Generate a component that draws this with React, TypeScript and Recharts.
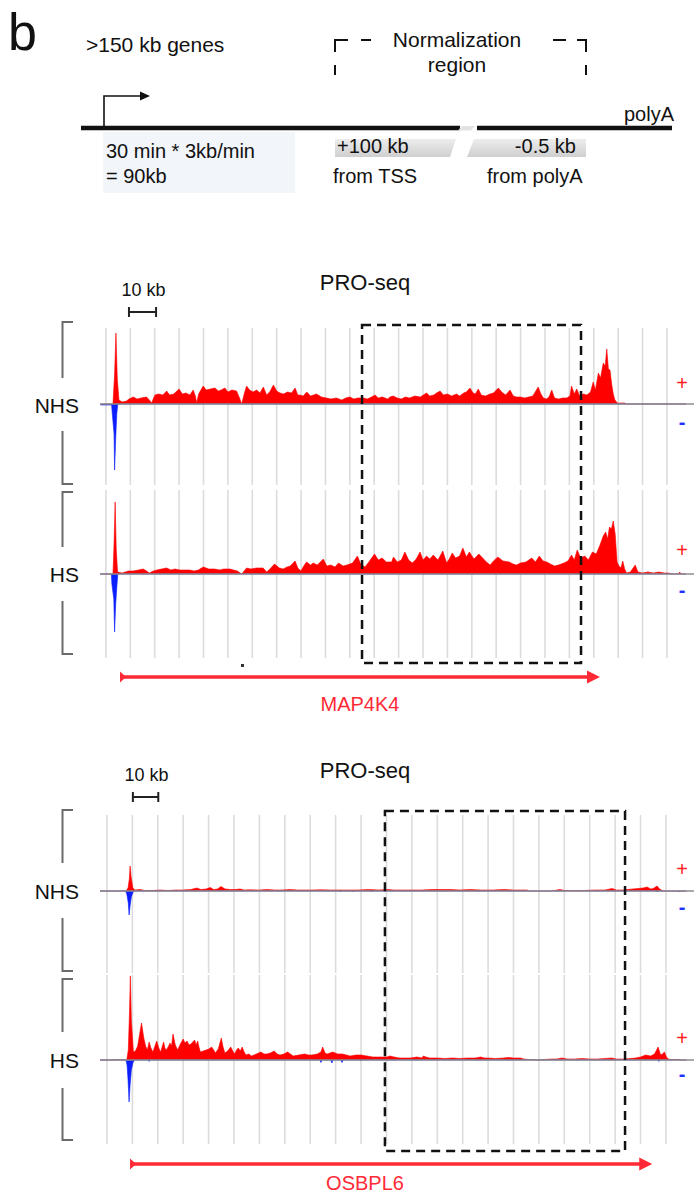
import React from 'react';
import { ComposedChart, Area, XAxis, YAxis, ReferenceLine, ReferenceArea } from 'recharts';

const FONT = '"Liberation Sans", Arial, Helvetica, sans-serif';
const RED = '#ff0000';
const BLUE = '#0a1eff';
const GENE_RED = '#ff2a36';

// ---- MAP4K4 panel (x in kb from the first grid line) ----
const MAP4K4_DOMAIN: [number, number] = [-4.4, 219.2];
const MAP4K4_GRID = [0, 9, 18, 27, 36, 45, 54, 63, 72, 81, 90, 99, 108, 117, 126, 135, 144, 153, 162, 171, 180, 189, 198, 207];
const MAP4K4_GENE = [5.2, 182.3];
const MAP4K4_NORM = [94.5, 175.3];
const MAP4K4_SCALE = [8.5, 18.5];

const MAP4K4_NHS_PLUS: [number, number][] = [
  [-2, 0], [2.6, 0], [3.2, 30], [3.7, 71], [4.2, 25], [4.8, 4], [6, 2], [7.6, 3], [8.5, 5], [10.1, 7], [11.5, 5], [13, 6],
  [15, 7], [16, 4], [16.9, 1], [17.6, 6], [18.1, 9], [19.5, 10], [21, 9], [22.4, 13], [23.5, 9], [25, 10], [27, 15],
  [28.2, 10], [29.5, 11], [31, 9], [32.2, 14], [33, 8], [33.5, 1], [34.2, 10], [35.9, 18], [37, 14], [38.5, 15],
  [40.2, 16], [41.5, 13], [42.5, 14], [43.9, 16], [45, 12], [46.5, 14], [48.2, 13], [49.3, 6], [50.1, 0], [51, 10],
  [51.9, 18], [53, 14], [54.3, 12], [55.6, 14], [56.8, 11], [58.1, 17], [59.3, 9], [60.4, 12], [61.8, 19], [63, 13],
  [64.2, 11], [65.5, 10], [67, 12], [68.5, 11], [69.8, 16], [70.8, 9], [71.6, 9], [72.8, 8], [74.1, 12], [75.5, 8],
  [77.7, 10], [79.5, 7], [81.4, 6], [83, 5], [85, 6], [87, 4], [88.5, 6], [90, 7], [91.5, 5], [93, 6], [95, 6],
  [96.5, 5], [98, 7], [99.3, 9], [100.5, 6], [102, 7], [104, 5], [104.8, 7], [106, 8], [107.5, 6], [109, 5],
  [110.5, 7], [112, 6], [114, 8], [116, 7], [117.1, 9], [118.3, 11], [119.5, 8], [121, 9], [122, 11], [123.3, 13],
  [124.5, 9], [126, 10], [127.5, 8], [129.4, 10], [130.5, 8], [132, 11], [133, 12], [134.3, 16], [135.5, 11],
  [136.3, 10], [137.4, 15], [138.5, 9], [140, 8], [141.7, 10], [143, 11], [144.8, 16], [146, 12], [147.5, 9],
  [149.1, 14], [150.3, 8], [151.5, 7], [153, 7], [154.5, 6], [156, 7], [157.5, 8], [159.5, 17], [160.5, 10],
  [161.4, 6], [162.5, 5], [163.5, 7], [164.5, 14], [165.5, 6], [167, 5], [168.5, 6], [170, 6], [171.2, 8],
  [171.8, 18], [172.8, 10], [173.7, 15], [174.8, 8], [176.1, 10], [177.5, 9], [178.8, 12], [179.8, 22], [180.6, 14],
  [181.7, 31], [182.5, 26], [183.5, 41], [184.2, 38], [184.8, 55], [185.4, 35], [186, 34], [186.6, 20], [187.2, 10],
  [187.8, 4], [188.7, 1], [191.5, 1], [192, 0], [214, 0],
];
const MAP4K4_NHS_MINUS: [number, number][] = [
  [-2, -1], [2.1, -1], [2.3, -8], [3.0, -30], [3.2, -66], [3.6, -35], [4.0, -10], [4.4, 0], [214, 0],
];
const MAP4K4_HS_PLUS: [number, number][] = [
  [-2, 0], [2.6, 0], [3.0, 30], [3.4, 72], [3.8, 25], [4.3, 2], [6, 1], [8.3, 3], [10, 3], [12, 4], [13.7, 5], [15, 3],
  [16, 1], [17.5, 3], [18.8, 4], [20.5, 5], [22.4, 6], [24, 4], [25.5, 5], [27.3, 4], [29, 4], [31, 4], [32.5, 3],
  [34.1, 4], [35.9, 7], [38, 5], [40, 5], [42, 4], [43.5, 5], [45.8, 5], [47, 4], [48.5, 3], [50.1, 0], [51.9, 6],
  [53.5, 5], [55.5, 6], [58, 6], [59.3, 2], [60.5, 5], [62.2, 10], [64, 6], [65.4, 5], [66.8, 7], [68, 8], [69.8, 13],
  [70.8, 6], [71.9, 3], [73, 8], [74, 12], [75.5, 9], [76.5, 11], [78, 9], [80.2, 15], [81.5, 8], [83, 9], [84.5, 7],
  [85.8, 11], [87.5, 8], [89, 9], [91, 11], [92.8, 18], [94, 10], [95.6, 7], [97, 12], [99.1, 20], [100.5, 14],
  [101.9, 16], [103.5, 12], [105.4, 12], [106.1, 17], [107.5, 12], [109, 14], [110.3, 22], [111.7, 14], [113.1, 11],
  [114.5, 15], [115.9, 22], [117, 14], [118.3, 18], [119.5, 15], [120.8, 19], [122.5, 14], [124.3, 23], [125.7, 11],
  [126.7, 15], [127.8, 21], [129, 16], [130.5, 18], [131.7, 26], [133, 17], [134.1, 22], [135.8, 15], [137.6, 20],
  [139, 16], [140.4, 12], [141.8, 9], [143, 13], [144.6, 17], [146.5, 13], [148.8, 12], [150.2, 10], [151.5, 9],
  [153, 11], [155, 12], [157.1, 16], [158.5, 12], [159.9, 18], [161.3, 13], [162.7, 12], [164, 10], [165.5, 8],
  [167, 9], [169, 11], [170.5, 13], [171.8, 19], [172.8, 14], [173.9, 24], [175.2, 16], [176.7, 18], [178, 14],
  [179.5, 22], [180.9, 20], [182.3, 29], [183.5, 38], [184.4, 42], [185.1, 35], [185.8, 47], [186.5, 45], [187.2, 53],
  [187.9, 40], [188.6, 12], [189.3, 8], [190, 6], [190.7, 13], [191.4, 5], [192.1, 1], [193.5, 2], [195.3, 9],
  [196.3, 2], [198, 1], [200, 2], [202, 1], [204, 2], [206, 1], [207.5, 1], [209, 0], [211.3, 0], [211.7, 2],
  [212.2, 0], [214, 0],
];
const MAP4K4_HS_MINUS: [number, number][] = [
  [-2, 0], [2.0, 0], [2.2, -10], [2.9, -25], [3.2, -58], [3.6, -30], [4.1, -10], [4.4, 0], [214, 0],
];

// ---- OSBPL6 panel ----
const OSBPL6_DOMAIN: [number, number] = [-5.1, 233.4];
const OSBPL6_GRID = [0, 10, 20, 30, 40, 50, 60, 70, 80, 90, 100, 110, 120, 130, 140, 150, 160, 170, 180, 190, 200, 210, 220];
const OSBPL6_GENE = [9.1, 214.6];
const OSBPL6_NORM = [109.4, 203.9];
const OSBPL6_SCALE = [10.2, 20.2];

const OSBPL6_NHS_PLUS: [number, number][] = [
  [-2.7, 0], [7.5, 0], [8.3, 3], [8.8, 12], [9.1, 25], [9.5, 14], [10.2, 3], [11, 1], [13, 1.5], [15, 0.5], [18, 0.5],
  [21, 1], [24, 0.5], [27, 1], [30, 1], [33, 1.5], [35.4, 3], [37, 1.5], [39, 2], [40.6, 3.5], [42, 1.5], [43.5, 2],
  [44.9, 4.5], [46.5, 2], [48.5, 1.5], [50.5, 1.5], [52.4, 2], [54, 1], [56.3, 1.2], [60, 1], [63, 1.5], [66, 1],
  [69, 1], [72, 1.5], [75, 1], [78, 1], [81, 1], [84, 1.2], [88, 1], [91.7, 1], [95, 1], [99, 1], [103, 1.5],
  [107, 1], [110, 1.5], [113, 1], [117, 1], [120, 1], [124, 1], [128, 1.5], [132, 1.5], [135, 1.5], [139, 1],
  [143, 1.5], [147, 1], [152, 1], [156, 1.5], [160, 1], [165.4, 1], [166, 0], [174.4, 0], [176, 0.5], [178.3, 1.5],
  [180, 0.5], [184, 0.5], [188, 0.5], [192, 1], [196, 1], [198.8, 2.5], [200.5, 1], [203, 1], [204.7, 1.5], [207, 2],
  [209, 2.5], [211, 3], [212.6, 4], [214, 2], [215, 2.5], [216.5, 5], [217.5, 2], [218.9, 0], [228, 0],
];
const OSBPL6_NHS_MINUS: [number, number][] = [
  [-2.7, 0], [7.3, 0], [7.8, -3], [8.4, -12], [8.7, -24], [9.1, -15], [9.6, -6], [10.3, -1], [11, 0], [91.5, 0],
  [91.7, -1], [92, 0], [96.7, 0], [96.9, -1], [97.2, 0], [104.1, 0], [104.3, -1], [104.6, 0], [216.3, 0], [216.5, -1],
  [216.8, 0], [225, 0], [225.2, -1], [225.5, 0], [228, 0],
];
const OSBPL6_HS_PLUS: [number, number][] = [
  [-2.7, 0], [2, 0], [5, 0.5], [7.8, 0], [8.4, 10], [8.9, 50], [9.2, 84], [9.6, 40], [10.4, 8], [11.2, 9], [12.1, 14],
  [13, 28], [13.6, 37], [14.5, 22], [15.2, 14], [15.9, 10], [16.6, 18], [17.3, 12], [18.1, 8], [18.9, 14], [19.6, 19],
  [20.4, 12], [21.1, 8], [21.7, 13], [22.3, 18], [22.8, 12], [23.3, 10], [24.1, 13], [24.8, 17], [25.4, 14], [26, 26],
  [26.9, 15], [27.8, 10], [28.9, 16], [30, 21], [30.7, 17], [31.5, 19], [32.3, 15], [33, 16], [33.8, 18], [34.5, 20],
  [35.1, 15], [35.7, 19], [36.3, 12], [36.8, 8], [37.9, 9], [39, 10], [40.1, 11], [41.2, 13], [42, 10], [42.7, 7],
  [43.8, 11], [45, 22], [45.7, 13], [46.4, 7], [47.5, 9], [48.7, 13], [49.5, 9], [50.2, 6], [51, 10], [51.7, 12],
  [52.5, 9], [53.2, 13], [54, 8], [54.7, 5], [55.8, 6], [56.9, 4], [58.8, 6], [60.6, 8], [61.8, 6], [62.9, 6],
  [64.3, 7], [65.8, 9], [67, 6], [68.1, 5], [69.6, 6], [71.1, 8], [72.2, 6], [73.3, 4], [75.5, 5], [77.8, 6],
  [79.3, 5], [80.7, 5], [82.8, 6], [84.2, 8], [84.9, 13], [85.8, 7], [86.7, 6], [87.8, 7], [88.9, 8], [90.8, 6],
  [92.7, 6], [94.2, 5], [95.7, 4], [98, 5], [100.1, 5], [102.3, 4], [104.6, 3], [106.8, 3], [109.1, 3], [110.2, 3],
  [111.3, 4], [113, 3], [115, 2], [117, 2], [119.5, 2], [122, 3], [124, 2], [124.5, 4], [125.5, 3], [127, 2], [130, 2],
  [133, 1.5], [136, 2], [139, 1.5], [142, 2], [145, 2], [147.1, 3], [148.5, 2], [150, 2], [153, 1.5], [156, 2],
  [158.3, 2.5], [160, 2], [162.8, 2], [164, 1], [166, 0.5], [169, 0], [172, 0.5], [175, 1], [177, 1], [179.2, 2],
  [181, 1], [184, 1], [187, 1.5], [190, 1], [193, 1], [196, 1.5], [198.6, 2], [200.5, 1], [203, 1], [206, 1.5],
  [208, 2], [210, 3], [212, 5], [214, 4], [215.5, 6], [216.9, 13], [217.9, 5], [218.6, 6], [219.4, 8], [220.2, 3],
  [220.9, 1], [222, 0.5], [225.4, 0.5], [226, 0], [228, 0],
];
const OSBPL6_HS_MINUS: [number, number][] = [
  [-2.7, 0], [7.5, 0], [7.9, -5], [8.3, -20], [8.7, -42], [9.1, -25], [9.6, -10], [10.2, -3], [10.8, 0], [16.3, 0],
  [16.6, -1.5], [16.9, 0], [83.8, 0], [84.2, -2.5], [84.7, 0], [88, 0], [88.5, -3], [89, 0], [92, 0], [92.5, -2.5],
  [93, 0], [99.7, 0], [100, -1], [100.3, 0], [216.8, 0], [217.2, -1.5], [217.6, 0], [228, 0],
];

const toRows = (pairs: [number, number][]) => pairs.map(([kb, v]) => ({ kb, v }));

// charts run slightly past the visible track area; the wrapper clips them
const CHART_LEFT = 94;
const CHART_W = 606;
const TRACK_LEFT = 100;
const TRACK_W = 594;

function Layer({ height, domain, yDomain, children }: any) {
  const anchor = [{ kb: domain[0], v: 0 }, { kb: domain[1], v: 0 }];
  return (
    <div style={{ position: 'absolute', left: CHART_LEFT - TRACK_LEFT, top: 0 }}>
      <ComposedChart width={CHART_W} height={height} data={anchor} margin={{ top: 0, right: 0, bottom: 0, left: 0 }}>
        <XAxis type="number" dataKey="kb" domain={domain} hide allowDataOverflow />
        <YAxis type="number" domain={yDomain} hide allowDataOverflow />
        {children}
      </ComposedChart>
    </div>
  );
}

function Track({ top, height, domain, yMin, yMax, grid, plus, minus }: any) {
  return (
    <div style={{ position: 'absolute', left: TRACK_LEFT, top, width: TRACK_W, height, overflow: 'hidden' }}>
      {/* grid layer underneath */}
      <Layer height={height} domain={domain} yDomain={[yMin, yMax]}>
        <Area dataKey="v" fill="none" stroke="none" isAnimationActive={false} dot={false} activeDot={false} />
        {grid.map((g: number) => (
          <ReferenceLine key={g} x={g} stroke="#dcdcdc" strokeWidth={1.6} />
        ))}
      </Layer>
      {/* signal layer */}
      <Layer height={height} domain={domain} yDomain={[yMin, yMax]}>
        <ReferenceLine y={0} stroke="#8c8c8c" strokeWidth={1.5} />
        <Area data={toRows(plus)} dataKey="v" type="linear" baseValue={0} fill={RED} fillOpacity={1}
          stroke={RED} strokeWidth={0.6} dot={false} activeDot={false} isAnimationActive={false} />
        <Area data={toRows(minus)} dataKey="v" type="linear" baseValue={0} fill={BLUE} fillOpacity={1}
          stroke={BLUE} strokeWidth={0.6} dot={false} activeDot={false} isAnimationActive={false} />
      </Layer>
    </div>
  );
}

// overlay chart sharing the panel's kb scale (dashed region, gene, scale bar)
function Overlay({ top, height, domain, pad = 0, children }: any) {
  const anchor = [{ kb: domain[0], v: 0 }, { kb: domain[1], v: 0 }];
  return (
    <div style={{ position: 'absolute', left: CHART_LEFT, top: top - pad, width: CHART_W, height: height + 2 * pad, pointerEvents: 'none' }}>
      <ComposedChart width={CHART_W} height={height + 2 * pad} data={anchor} margin={{ top: pad, right: 0, bottom: pad, left: 0 }}>
        <XAxis type="number" dataKey="kb" domain={domain} hide allowDataOverflow />
        <YAxis type="number" domain={[0, 1]} hide allowDataOverflow />
        <Area dataKey="v" fill="none" stroke="none" isAnimationActive={false} dot={false} activeDot={false} />
        {children}
      </ComposedChart>
    </div>
  );
}

const GeneShape = (props: any) => {
  const { x1, x2, y1 } = props;
  return (
    <g>
      <line x1={x1} y1={y1} x2={x2 - 10} y2={y1} stroke={GENE_RED} strokeWidth={3.5} />
      <polygon points={`${x2},${y1} ${x2 - 13},${y1 - 6.5} ${x2 - 13},${y1 + 6.5}`} fill={GENE_RED} />
      <polygon points={`${x1},${y1 - 5.5} ${x1 + 6},${y1} ${x1},${y1 + 5.5}`} fill={GENE_RED} />
    </g>
  );
};

const ScaleShape = (props: any) => {
  const { x1, x2, y1 } = props;
  return (
    <g>
      <g stroke="#222" strokeWidth={2}>
        <line x1={x1} y1={y1} x2={x2} y2={y1} />
        <line x1={x1} y1={y1 - 5} x2={x1} y2={y1 + 5} />
        <line x1={x2} y1={y1 - 5} x2={x2} y2={y1 + 5} />
      </g>
      <text x={(x1 + x2) / 2 + 1} y={y1 - 16} textAnchor="middle" fontSize={18} fill="#111" fontFamily={FONT}>10 kb</text>
    </g>
  );
};

function Panel({ y, domain, grid, gene, norm, scale, tracks }: any) {
  const [t1, t2] = tracks;
  return (
    <>
      <Track {...t1} domain={domain} grid={grid} />
      <Track {...t2} domain={domain} grid={grid} />
      <Overlay top={y.scale - 40} height={50} domain={domain}>
        <ReferenceLine segment={[{ x: scale[0], y: 0.2 }, { x: scale[1], y: 0.2 }]} shape={ScaleShape} ifOverflow="visible" />
      </Overlay>
      <Overlay top={y.normTop} height={y.normBottom - y.normTop} domain={domain} pad={3}>
        <ReferenceArea x1={norm[0]} x2={norm[1]} y1={0} y2={1} fill="none" fillOpacity={0} stroke="#111"
          strokeWidth={2.5} strokeDasharray="9 6" ifOverflow="visible" />
      </Overlay>
      <Overlay top={y.gene - 10} height={20} domain={domain}>
        <ReferenceLine segment={[{ x: gene[0], y: 0.5 }, { x: gene[1], y: 0.5 }]} shape={GeneShape} ifOverflow="visible" />
      </Overlay>
    </>
  );
}

function Bracket({ top, upper, lower, bottom }: any) {
  return (
    <path d={`M73 ${top} H62.5 V${upper} M62.5 ${lower} V${bottom} H73`} fill="none" stroke="#6a6a6a" strokeWidth={2} />
  );
}

function TrackLabels({ label, base, plusY, minusY }: any) {
  return (
    <g fontFamily={FONT}>
      <text x={79} y={base} textAnchor="end" fontSize={21} fill="#111">{label}</text>
      <text x={682} y={plusY + 7} textAnchor="middle" fontSize={20} fill="#ff2020">+</text>
      <text x={682} y={minusY + 6} textAnchor="middle" fontSize={20} fill="#2030ff" fontWeight="bold">-</text>
    </g>
  );
}

export default function App() {
  return (
    <div style={{ position: 'absolute', left: 0, top: 0, width: 694, height: 1194, background: '#fff', fontFamily: FONT, overflow: 'hidden' }}>
      <Panel
        y={{ scale: 312, normTop: 325, normBottom: 663, gene: 677 }}
        domain={MAP4K4_DOMAIN} grid={MAP4K4_GRID} gene={MAP4K4_GENE} norm={MAP4K4_NORM} scale={MAP4K4_SCALE}
        tracks={[
          { top: 328, height: 157, yMin: -81, yMax: 76, plus: MAP4K4_NHS_PLUS, minus: MAP4K4_NHS_MINUS },
          { top: 490, height: 168, yMin: -84, yMax: 84, plus: MAP4K4_HS_PLUS, minus: MAP4K4_HS_MINUS },
        ]}
      />
      <Panel
        y={{ scale: 797, normTop: 811, normBottom: 1151, gene: 1164 }}
        domain={OSBPL6_DOMAIN} grid={OSBPL6_GRID} gene={OSBPL6_GENE} norm={OSBPL6_NORM} scale={OSBPL6_SCALE}
        tracks={[
          { top: 815, height: 158, yMin: -82, yMax: 76, plus: OSBPL6_NHS_PLUS, minus: OSBPL6_NHS_MINUS },
          { top: 975, height: 169, yMin: -84, yMax: 85, plus: OSBPL6_HS_PLUS, minus: OSBPL6_HS_MINUS },
        ]}
      />

      <svg width={694} height={1194} style={{ position: 'absolute', left: 0, top: 0, pointerEvents: 'none' }}>
        <defs>
          <linearGradient id="boxGrad" x1="0" y1="0" x2="0" y2="1">
            <stop offset="0" stopColor="#ededed" />
            <stop offset="1" stopColor="#cfcfcf" />
          </linearGradient>
        </defs>

        {/* schematic */}
        <text x={8} y={50} fontSize={52} fill="#111" fontFamily={FONT}>b</text>
        <text x={86} y={52} fontSize={21} fill="#111" fontFamily={FONT}>&gt;150 kb genes</text>
        <g stroke="#111" strokeWidth={2} fill="none">
          <path d="M335 75 V65 M335 52 V40 H348 M361 40 H371" />
          <path d="M553 40 H566 M577 40 H586 V52 M586 65 V75" />
        </g>
        <text x={457} y={47} textAnchor="middle" fontSize={21} fill="#111" fontFamily={FONT}>Normalization</text>
        <text x={457} y={72} textAnchor="middle" fontSize={21} fill="#111" fontFamily={FONT}>region</text>
        <rect x={103} y={132} width={192} height={61} fill="#f2f5fa" />
        <polygon points="335,139 456,139 450,157 335,157" fill="url(#boxGrad)" />
        <polygon points="474,139 586,139 586,157 467,157" fill="url(#boxGrad)" />
        <line x1={81} y1={128} x2={460} y2={128} stroke="#111" strokeWidth={4.5} />
        <polygon points="462,126 475,126 471,130.5 458,130.5" fill="#e2e2e2" />
        <line x1={477} y1={128} x2={672} y2={128} stroke="#111" strokeWidth={4.5} />
        <path d="M104 126 V96 H142" stroke="#111" strokeWidth={1.6} fill="none" />
        <polygon points="140,91.5 150,96 140,100.5" fill="#111" />
        <text x={674} y={121} textAnchor="end" fontSize={20} fill="#111" fontFamily={FONT}>polyA</text>
        <text x={106} y={158} fontSize={20} fill="#111" fontFamily={FONT}>30 min * 3kb/min</text>
        <text x={106} y={183} fontSize={20} fill="#111" fontFamily={FONT}>= 90kb</text>
        <text x={337} y={153} fontSize={20} fill="#111" fontFamily={FONT}>+100 kb</text>
        <text x={576} y={153} textAnchor="end" fontSize={20} fill="#111" fontFamily={FONT}>-0.5 kb</text>
        <text x={333} y={183} fontSize={20} fill="#111" fontFamily={FONT}>from TSS</text>
        <text x={487} y={183} fontSize={20} fill="#111" fontFamily={FONT}>from polyA</text>

        {/* MAP4K4 panel */}
        <text x={365} y={290} textAnchor="middle" fontSize={22} fill="#111" fontFamily={FONT}>PRO-seq</text>
        <Bracket top={322} upper={378} lower={431} bottom={484} />
        <Bracket top={492} upper={547} lower={601} bottom={654} />
        <TrackLabels label="NHS" base={413} plusY={383} minusY={423} />
        <TrackLabels label="HS" base={582} plusY={550} minusY={591} />
        <rect x={241} y={664} width={3} height={3} fill="#333" />
        <text x={360} y={711} textAnchor="middle" fontSize={20} fill={GENE_RED} fontFamily={FONT}>MAP4K4</text>

        {/* OSBPL6 panel */}
        <text x={365} y={778} textAnchor="middle" fontSize={22} fill="#111" fontFamily={FONT}>PRO-seq</text>
        <Bracket top={810} upper={863} lower={918} bottom={971} />
        <Bracket top={979} upper={1032} lower={1088} bottom={1140} />
        <TrackLabels label="NHS" base={899} plusY={869} minusY={908} />
        <TrackLabels label="HS" base={1068} plusY={1038} minusY={1075} />
        <text x={365} y={1190} textAnchor="middle" fontSize={20} fill={GENE_RED} fontFamily={FONT}>OSBPL6</text>
      </svg>
    </div>
  );
}
